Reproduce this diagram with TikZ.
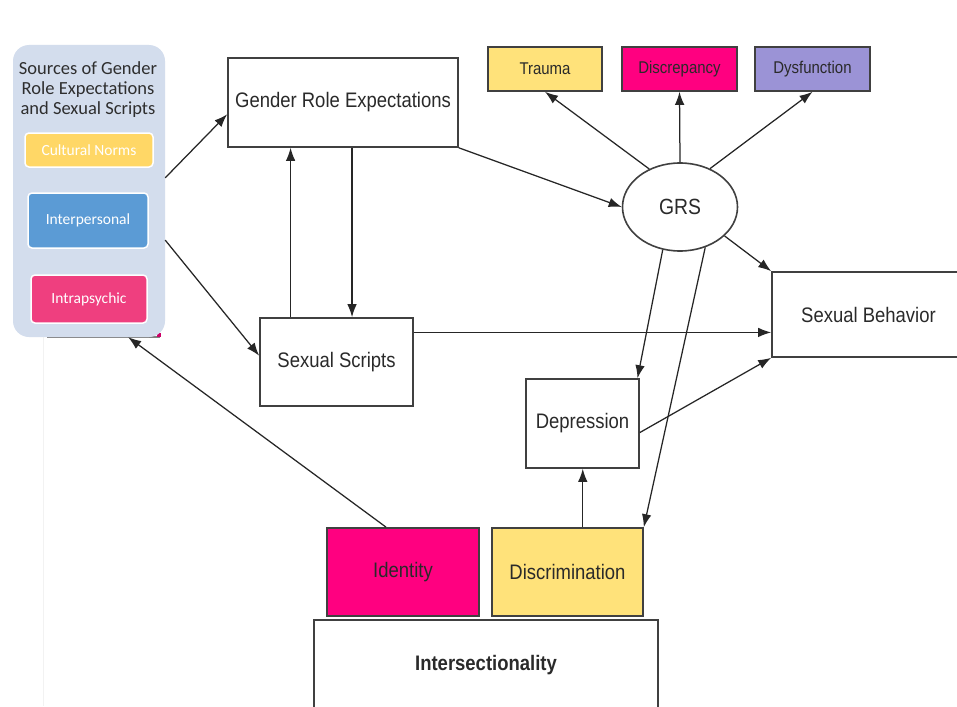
\documentclass[tikz,border=0pt]{standalone}
\usepackage{fontspec}
\setmainfont{Liberation Sans}
\newfontfamily\narrowfont{Liberation Sans}[FakeStretch=0.88]
\newfontfamily\calfont{Carlito}
\usetikzlibrary{arrows.meta,calc,shapes.geometric}

\definecolor{srcbg}{HTML}{D3DDED}
\definecolor{cultyellow}{HTML}{FFD766}
\definecolor{interblue}{HTML}{5B9BD5}
\definecolor{intrapink}{HTML}{EF3F7F}
\definecolor{hotpink}{HTML}{FF0080}
\definecolor{paleyellow}{HTML}{FFE27A}
\definecolor{lavender}{HTML}{9B93D6}
\definecolor{edgegray}{HTML}{404040}
\definecolor{inkgray}{HTML}{2A2A2A}

\tikzset{
  box/.style={draw=edgegray, line width=1.6pt, fill=white, inner sep=0pt,
    text=inkgray, font=\narrowfont\fontsize{21}{24}\selectfont},
  tag/.style={box, font=\narrowfont\fontsize{17}{20}\selectfont},
  srcitem/.style={draw=white, line width=1.5pt, rounded corners=4pt, inner sep=0pt,
    text=white, font=\calfont\fontsize{15.5}{18}\selectfont},
  arr/.style={-{Latex[length=13pt,width=9.5pt]}, line width=1.25pt, draw=black!85},
}

\begin{document}
\begin{tikzpicture}[x=1pt,y=-1pt]
\useasboundingbox (0,0) rectangle (957,706);
\clip (0,0) rectangle (957,706);
\fill[white] (0,0) rectangle (957,706);

% faint guide line and leftovers below the sources panel
\draw[black!5, line width=1pt] (43,337) -- (43,706);
\draw[black!50, line width=1.6pt] (47,337) -- (160,337);
\fill[hotpink!80!black] (157,333) rectangle (161,337);

% sources panel
\node[fill=srcbg, rounded corners=16pt, minimum width=152, minimum height=292, inner sep=0pt] (src) at (89,191) {};
\node[align=center, text=black!82, font=\calfont\fontsize{18.5}{20}\selectfont] (srchead) at (88,90)
  {Sources of Gender\\Role Expectations\\and Sexual Scripts};
\node[srcitem, fill=cultyellow, minimum width=128, minimum height=34] (cult) at (89,150) {Cultural Norms};
\node[srcitem, fill=interblue, minimum width=120, minimum height=55] (inter) at (88,220.5) {Interpersonal};
\node[srcitem, fill=intrapink, minimum width=116, minimum height=48] (intra) at (89,299) {Intrapsychic};

% main boxes
\node[box, minimum width=230, minimum height=89] (gre) at (343,102.5) {Gender Role Expectations};
\node[box, minimum width=153, minimum height=88] (ss) at (336.5,362) {Sexual Scripts};
\node[box, minimum width=193, minimum height=85] (sb) at (868.5,314.5) {Sexual Behavior};
\node[box, minimum width=113, minimum height=89] (dep) at (582.5,423.5) {Depression};
\node[box, fill=hotpink, minimum width=152, minimum height=88] (ident) at (403,572) {Identity};
\node[box, fill=paleyellow, minimum width=151, minimum height=88] (discr) at (567.5,572) {Discrimination};
\node[box, minimum width=344, minimum height=90, font=\narrowfont\bfseries\fontsize{21}{24}\selectfont] (inters) at (486,665) {Intersectionality};

% outcome tags
\node[tag, fill=paleyellow, minimum width=114, minimum height=44] (trauma) at (545,69) {Trauma};
\node[tag, fill=hotpink, minimum width=115, minimum height=44] (discrep) at (679.5,69) {Discrepancy};
\node[tag, fill=lavender, minimum width=115, minimum height=44] (dysf) at (812.5,69) {Dysfunction};

% gender role strain
\node[ellipse, draw=edgegray, line width=1.6pt, fill=white, inner sep=0pt,
  minimum width=115, minimum height=88, text=inkgray,
  font=\narrowfont\fontsize{22}{24}\selectfont] (grs) at (680,207) {GRS};

% helper points on box edges
\coordinate (p1) at ($(ss.north west)!0.203!(ss.north east)$);
\coordinate (p2) at ($(gre.south west)!0.539!(gre.south east)$);
\coordinate (p3) at ($(ss.north east)!0.17!(ss.south east)$);
\coordinate (p4) at ($(discr.north west)!0.6!(discr.north east)$);
\coordinate (p5) at ($(ident.north west)!0.39!(ident.north east)$);

% connectors
\draw[arr] ($(src.north east)!0.455!(src.south east)$) -- ($(gre.north west)!0.63!(gre.south west)$);
\draw[arr] ($(src.north east)!0.668!(src.south east)$) -- ($(ss.north west)!0.43!(ss.south west)$);
\draw[arr] (p1) -- (p1 |- gre.south);
\draw[arr] (p2) -- (p2 |- ss.north);
\draw[arr] (gre.south east) -- (grs.west);
\draw[arr] (grs.129) -- (trauma.south);
\draw[arr] (grs.north) -- (discrep.south);
\draw[arr] (grs.52) -- (dysf.south);
\draw[arr] (grs.-33) -- (sb.north west);
\draw[arr] (p3) -- (p3 -| sb.west);
\draw[arr] (grs.248) -- ($(dep.north west)!0.98!(dep.north east)$);
\draw[arr] (grs.-58) -- (discr.north east);
\draw[arr] ($(dep.north east)!0.6!(dep.south east)$) -- (sb.south west);
\draw[arr] (p4) -- (p4 |- dep.south);
\draw[arr] (p5) -- ($(src.south west)!0.757!(src.south east)$);
\end{tikzpicture}
\end{document}
